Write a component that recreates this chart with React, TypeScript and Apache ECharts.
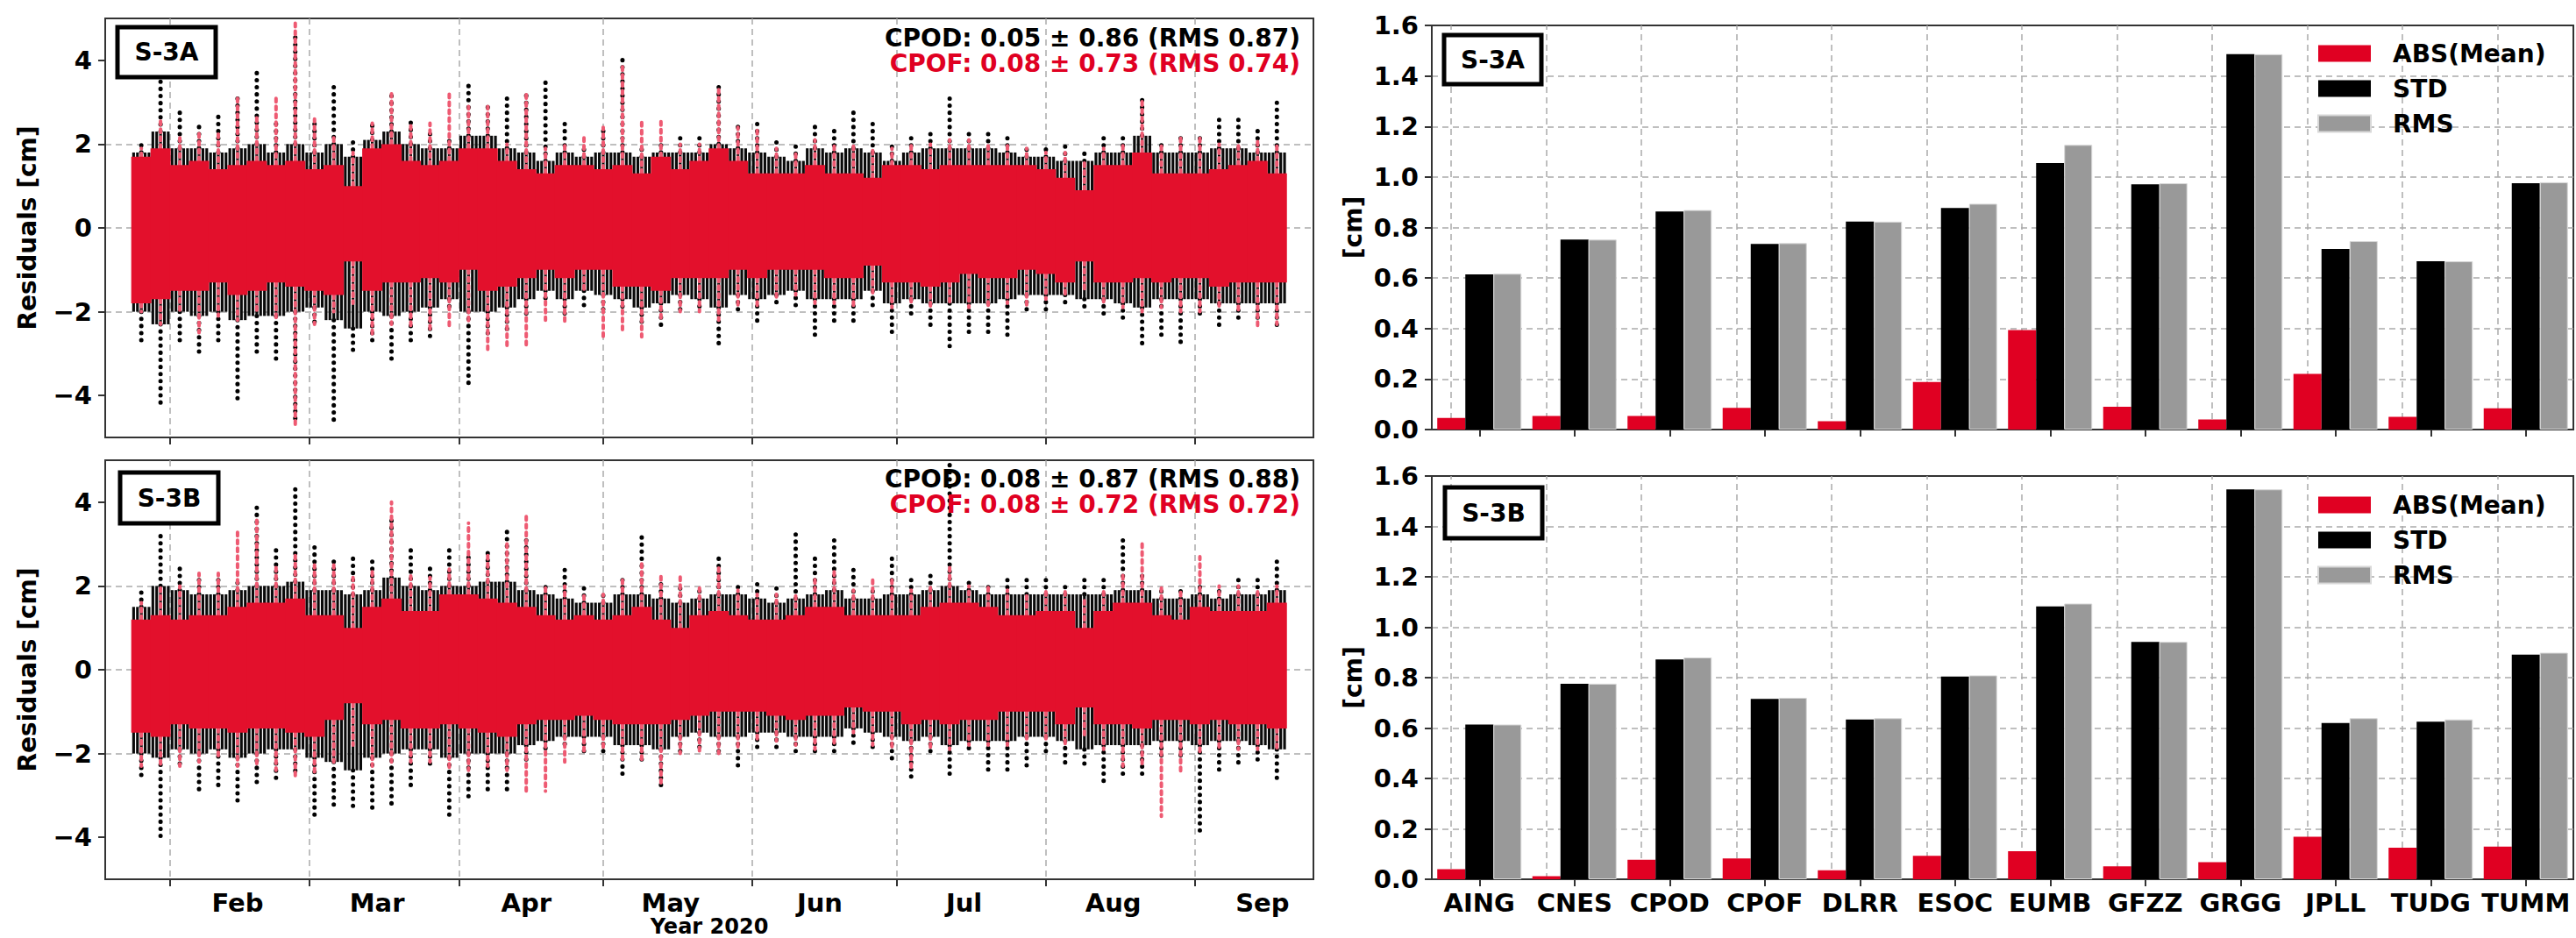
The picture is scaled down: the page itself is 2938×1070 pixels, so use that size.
import React, { useEffect, useRef } from 'react';
import * as echarts from 'echarts';

const FONT = 'DejaVu Sans';
const RED = '#e00022';
const RED_SCATTER = '#e3102c';
const RED_LIGHT = '#ee5a72';
const GRAY = '#999999';
const GRID_LINE = '#aaaaaa';
const FRAME = '#333333';

// ---------- left panels: residual time series (day of year 2020, Jan 1 = 0) ----------
const monthStartDays = [31, 60, 91, 121, 152, 182, 213, 244];
const monthLabelDays = [45, 74, 105, 135, 166, 196, 227, 258];
const monthNames = ['Feb', 'Mar', 'Apr', 'May', 'Jun', 'Jul', 'Aug', 'Sep'];
const residualTicks = [-4, -2, 0, 2, 4];

// 4-day bins: centre day of each bin
const binDays = [25, 29, 33, 37, 41, 45, 49, 53, 57, 61, 65, 69, 73, 77, 81, 85, 89, 93, 97, 101,
  105, 109, 113, 117, 121, 125, 129, 133, 137, 141, 145, 149, 153, 157, 161, 165, 169, 173, 177, 181,
  185, 189, 193, 197, 201, 205, 209, 213, 217, 221, 225, 229, 233, 237, 241, 245, 249, 253, 257, 261];

// per bin: [outer low, dense low, dense high, outer high]  (cm)
const s3aCpod = [
  [-2.7, -2.0, 1.8, 2.0], [-4.3, -2.3, 2.3, 3.8], [-2.7, -2.0, 1.9, 2.8], [-3.0, -2.1, 1.9, 2.5],
  [-2.7, -2.0, 1.8, 2.7], [-4.1, -2.2, 1.9, 3.1], [-3.1, -2.1, 2.0, 3.7], [-3.2, -2.1, 1.8, 2.6],
  [-4.6, -2.0, 2.0, 4.6], [-2.4, -1.9, 1.8, 2.5], [-4.7, -2.2, 2.0, 3.4], [-3.0, -2.4, 1.7, 2.1],
  [-2.8, -2.0, 2.1, 2.6], [-3.2, -2.1, 2.3, 3.3], [-2.7, -2.0, 2.0, 2.6], [-2.6, -1.9, 1.9, 2.4],
  [-2.0, -1.7, 1.9, 2.2], [-3.8, -2.0, 2.2, 3.4], [-2.6, -2.0, 2.2, 3.0], [-2.5, -1.9, 1.9, 3.1],
  [-2.2, -1.7, 1.8, 3.2], [-1.8, -1.5, 1.6, 3.5], [-2.1, -1.7, 1.8, 2.6], [-1.9, -1.5, 1.7, 2.0],
  [-2.1, -1.6, 1.8, 2.4], [-1.9, -1.7, 1.8, 4.05], [-2.3, -1.9, 1.7, 2.0], [-2.4, -1.8, 1.8, 2.0],
  [-2.0, -1.6, 1.8, 2.2], [-2.0, -1.7, 1.8, 2.2], [-2.8, -1.9, 2.0, 3.4], [-2.1, -1.6, 1.9, 2.5],
  [-2.3, -1.7, 1.8, 2.5], [-1.9, -1.6, 1.7, 2.1], [-1.9, -1.5, 1.6, 2.1], [-2.6, -1.7, 1.9, 2.5],
  [-2.3, -1.7, 1.8, 2.4], [-2.3, -1.7, 1.9, 2.9], [-2.0, -1.5, 1.8, 2.5], [-2.6, -1.8, 1.6, 2.0],
  [-2.2, -1.7, 1.8, 2.2], [-2.4, -1.8, 1.9, 2.4], [-2.9, -1.8, 1.9, 3.1], [-2.6, -1.8, 1.9, 2.4],
  [-2.6, -1.8, 1.9, 2.3], [-2.6, -1.7, 1.8, 2.3], [-2.1, -1.6, 1.7, 2.0], [-2.0, -1.6, 1.7, 2.0],
  [-1.9, -1.6, 1.6, 2.0], [-2.0, -1.7, 1.6, 1.9], [-2.1, -1.7, 1.8, 2.3], [-2.3, -1.8, 1.8, 2.3],
  [-2.9, -1.9, 2.2, 3.2], [-2.6, -1.7, 1.8, 2.1], [-2.85, -1.7, 1.8, 2.2], [-2.1, -1.7, 1.8, 2.2],
  [-2.4, -1.8, 1.9, 2.6], [-2.3, -1.8, 1.9, 2.6], [-2.3, -1.8, 1.8, 2.4], [-2.4, -1.8, 1.8, 3.1],
];
const s3aCpof = [
  [-2.0, -1.8, 1.7, 1.9], [-2.3, -1.7, 1.9, 2.6], [-2.0, -1.5, 1.5, 2.2], [-2.5, -1.5, 1.6, 2.3],
  [-2.1, -1.3, 1.4, 2.3], [-2.2, -1.6, 1.5, 3.1], [-2.0, -1.5, 1.6, 2.7], [-2.2, -1.3, 1.5, 3.1],
  [-4.7, -1.4, 1.6, 4.9], [-2.3, -1.5, 1.4, 2.6], [-2.0, -1.6, 1.5, 2.2], [-1.8, -0.8, 1.0, 1.8],
  [-2.6, -1.5, 1.9, 2.5], [-2.3, -1.3, 2.0, 3.2], [-2.4, -1.3, 1.6, 2.5], [-2.5, -1.2, 1.5, 2.5],
  [-2.4, -1.3, 1.6, 3.2], [-2.3, -1.0, 1.9, 2.9], [-2.9, -1.5, 1.9, 2.9], [-2.9, -1.4, 1.6, 2.0],
  [-2.8, -1.2, 1.4, 3.2], [-2.2, -1.0, 1.3, 1.9], [-2.3, -1.2, 1.5, 2.0], [-1.5, -1.0, 1.5, 2.2],
  [-2.6, -1.0, 1.4, 2.4], [-2.5, -1.4, 1.5, 3.9], [-2.6, -1.4, 1.3, 2.6], [-2.2, -1.5, 1.7, 2.6],
  [-2.0, -1.2, 1.4, 2.0], [-2.0, -1.2, 1.6, 2.0], [-2.2, -1.2, 1.9, 3.3], [-1.9, -1.0, 1.6, 2.4],
  [-1.9, -1.2, 1.3, 2.4], [-1.7, -1.0, 1.3, 1.9], [-1.6, -1.0, 1.3, 1.8], [-1.8, -1.0, 1.5, 2.1],
  [-1.8, -1.2, 1.3, 2.0], [-1.9, -1.2, 1.3, 2.0], [-1.6, -0.9, 1.2, 1.9], [-1.9, -1.3, 1.5, 1.9],
  [-1.8, -1.3, 1.5, 2.0], [-1.9, -1.4, 1.4, 2.0], [-1.8, -1.3, 1.5, 2.1], [-1.9, -1.1, 1.5, 2.1],
  [-1.9, -1.2, 1.5, 2.0], [-1.8, -1.2, 1.5, 2.0], [-1.9, -1.0, 1.5, 1.9], [-1.7, -1.1, 1.4, 1.8],
  [-1.6, -1.3, 1.2, 1.8], [-1.5, -0.8, 0.9, 1.6], [-1.8, -1.3, 1.5, 1.9], [-1.9, -1.3, 1.5, 2.0],
  [-2.0, -1.2, 1.8, 3.1], [-1.9, -1.3, 1.3, 2.0], [-2.0, -1.2, 1.3, 2.2], [-2.0, -1.2, 1.3, 2.2],
  [-1.9, -1.4, 1.4, 2.0], [-2.0, -1.3, 1.5, 2.0], [-2.4, -1.3, 1.6, 2.1], [-2.3, -1.3, 1.3, 2.0],
];
const s3bCpod = [
  [-2.6, -2.0, 1.5, 2.0], [-4.1, -2.1, 2.0, 3.3], [-2.4, -1.9, 1.9, 2.5], [-2.9, -2.0, 1.8, 2.3],
  [-2.9, -1.9, 1.8, 2.2], [-3.2, -2.1, 1.9, 2.2], [-2.7, -2.0, 2.0, 3.9], [-2.6, -1.9, 2.0, 2.9],
  [-2.5, -1.9, 2.1, 4.4], [-3.5, -2.1, 1.9, 3.0], [-3.3, -2.2, 1.9, 2.7], [-3.3, -2.4, 1.8, 2.7],
  [-3.3, -2.1, 1.9, 2.7], [-3.2, -2.0, 2.2, 3.6], [-2.9, -1.9, 2.0, 2.9], [-2.4, -1.9, 1.9, 2.5],
  [-3.6, -2.1, 2.0, 3.0], [-3.1, -2.0, 2.0, 2.8], [-2.9, -2.0, 2.1, 2.9], [-3.0, -2.0, 2.1, 3.4],
  [-2.2, -1.8, 1.9, 3.1], [-2.0, -1.7, 1.8, 2.0], [-1.9, -1.6, 1.7, 2.4], [-2.0, -1.6, 1.6, 2.0],
  [-2.1, -1.6, 1.6, 1.9], [-2.5, -1.8, 1.8, 2.2], [-2.2, -1.8, 1.8, 3.2], [-2.8, -1.9, 1.7, 2.1],
  [-2.0, -1.6, 1.6, 2.0], [-2.0, -1.5, 1.7, 2.0], [-2.0, -1.6, 1.8, 2.8], [-2.3, -1.6, 1.8, 2.0],
  [-2.0, -1.5, 1.7, 2.1], [-2.0, -1.5, 1.6, 2.0], [-2.0, -1.6, 1.7, 3.3], [-2.0, -1.6, 1.8, 2.7],
  [-2.0, -1.6, 1.9, 3.1], [-1.8, -1.4, 1.7, 2.4], [-2.0, -1.5, 1.7, 2.0], [-2.2, -1.6, 1.8, 2.8],
  [-2.6, -1.7, 1.8, 2.3], [-2.0, -1.6, 1.9, 2.4], [-2.6, -1.8, 2.0, 4.97], [-2.0, -1.7, 1.9, 2.2],
  [-2.5, -1.7, 1.8, 2.1], [-2.5, -1.7, 1.8, 2.3], [-2.3, -1.6, 1.8, 2.3], [-2.0, -1.6, 1.8, 2.2],
  [-2.3, -1.7, 1.8, 2.1], [-2.3, -1.9, 1.8, 2.2], [-2.7, -1.8, 1.8, 2.3], [-2.5, -1.8, 1.9, 3.1],
  [-2.6, -1.8, 1.9, 2.3], [-2.2, -1.7, 1.7, 2.0], [-2.2, -1.7, 1.7, 2.0], [-4.0, -1.8, 1.8, 2.0],
  [-2.5, -1.7, 1.7, 2.0], [-2.3, -1.7, 1.8, 2.3], [-2.3, -1.8, 1.8, 2.2], [-2.7, -1.9, 1.9, 2.7],
];
const s3bCpof = [
  [-2.3, -1.5, 1.2, 1.6], [-2.3, -1.6, 1.3, 2.0], [-2.3, -1.3, 1.2, 2.0], [-2.2, -1.4, 1.3, 2.3],
  [-2.1, -1.4, 1.3, 2.3], [-2.3, -1.5, 1.5, 3.3], [-2.3, -1.4, 1.6, 3.6], [-2.4, -1.4, 1.6, 2.5],
  [-2.6, -1.5, 1.7, 2.8], [-2.5, -1.6, 1.3, 2.5], [-2.2, -1.2, 1.3, 2.5], [-1.8, -0.8, 1.0, 2.2],
  [-2.3, -1.3, 1.5, 2.4], [-2.2, -1.2, 1.7, 4.0], [-2.2, -1.4, 1.4, 2.3], [-2.2, -1.4, 1.4, 2.2],
  [-2.4, -1.3, 1.8, 2.4], [-2.4, -1.4, 1.8, 3.5], [-2.3, -1.5, 1.7, 2.8], [-2.4, -1.6, 1.6, 3.1],
  [-2.9, -1.3, 1.5, 3.7], [-2.9, -1.2, 1.3, 2.0], [-2.2, -1.2, 1.2, 2.0], [-2.0, -1.1, 1.3, 1.8],
  [-1.9, -1.2, 1.2, 1.8], [-2.2, -1.3, 1.3, 2.2], [-2.2, -1.3, 1.5, 2.6], [-2.7, -1.3, 1.2, 2.3],
  [-2.0, -1.2, 1.0, 2.3], [-2.0, -1.1, 1.3, 2.0], [-2.0, -1.0, 1.4, 2.5], [-1.9, -1.0, 1.3, 1.9],
  [-1.7, -1.0, 1.2, 1.8], [-1.7, -1.1, 1.2, 1.8], [-1.8, -1.2, 1.3, 1.8], [-1.9, -1.1, 1.5, 2.2],
  [-1.8, -1.1, 1.5, 2.4], [-1.5, -0.9, 1.3, 1.9], [-1.8, -1.0, 1.3, 2.2], [-1.9, -1.0, 1.3, 2.2],
  [-2.4, -1.3, 1.3, 1.9], [-1.9, -1.2, 1.5, 2.0], [-1.9, -1.3, 1.6, 2.5], [-1.8, -1.2, 1.6, 2.0],
  [-1.8, -1.2, 1.5, 2.0], [-1.8, -1.0, 1.3, 1.9], [-1.7, -1.0, 1.3, 1.8], [-1.7, -1.0, 1.4, 1.9],
  [-1.8, -1.3, 1.4, 1.9], [-1.6, -0.9, 1.0, 1.7], [-1.9, -1.3, 1.4, 1.9], [-2.3, -1.3, 1.6, 2.3],
  [-2.3, -1.4, 1.6, 3.0], [-3.5, -1.2, 1.3, 2.0], [-2.5, -1.2, 1.2, 1.9], [-2.0, -1.3, 1.5, 2.7],
  [-1.9, -1.2, 1.4, 2.0], [-1.9, -1.3, 1.4, 2.0], [-1.9, -1.3, 1.4, 1.9], [-1.9, -1.4, 1.6, 2.0],
];

const s3aStats = ['CPOD: 0.05 \u00b1 0.86 (RMS 0.87)', 'CPOF: 0.08 \u00b1 0.73 (RMS 0.74)'];
const s3bStats = ['CPOD: 0.08 \u00b1 0.87 (RMS 0.88)', 'CPOF: 0.08 \u00b1 0.72 (RMS 0.72)'];

// ---------- right panels: statistics per analysis centre ----------
const centres = ['AING', 'CNES', 'CPOD', 'CPOF', 'DLRR', 'ESOC', 'EUMB', 'GFZZ', 'GRGG', 'JPLL', 'TUDG', 'TUMM'];
const s3aMean = [0.046, 0.054, 0.054, 0.086, 0.033, 0.188, 0.394, 0.090, 0.040, 0.220, 0.050, 0.084];
const s3aStd = [0.614, 0.752, 0.863, 0.735, 0.823, 0.877, 1.055, 0.971, 1.486, 0.715, 0.666, 0.975];
const s3aRms = [0.617, 0.752, 0.869, 0.738, 0.823, 0.894, 1.127, 0.975, 1.486, 0.746, 0.666, 0.979];
const s3bMean = [0.040, 0.012, 0.077, 0.083, 0.036, 0.093, 0.111, 0.051, 0.068, 0.169, 0.125, 0.130];
const s3bStd = [0.614, 0.776, 0.872, 0.716, 0.634, 0.804, 1.083, 0.942, 1.547, 0.620, 0.625, 0.891];
const s3bRms = [0.614, 0.776, 0.880, 0.720, 0.639, 0.809, 1.094, 0.942, 1.547, 0.639, 0.634, 0.899];
const statNames = ['ABS(Mean)', 'STD', 'RMS'];

const BIN = 4;
const bold = (size: number) => ({ fontFamily: FONT, fontWeight: 'bold' as const, fontSize: size, color: '#000' });
const dashed = { color: GRID_LINE, type: [7, 5] as number[], width: 1.5 };

function rangeRenderer(coreColor: string, striped: boolean, outerColor: string, outerWidth: number, dash: number[]) {
  return (params: any, api: any) => {
    const d = api.value(0);
    const x = api.coord([d, 0])[0];
    const yOLo = api.coord([d, api.value(1)])[1];
    const yCLo = api.coord([d, api.value(2)])[1];
    const yCHi = api.coord([d, api.value(3)])[1];
    const yOHi = api.coord([d, api.value(4)])[1];
    const w = api.size([BIN, 0])[0];
    const outerStyle = { stroke: outerColor, lineWidth: outerWidth, lineDash: dash, lineCap: 'round', fill: 'none' };
    const children: any[] = [
      { type: 'line', shape: { x1: x, y1: yCHi, x2: x, y2: yOHi }, style: outerStyle },
      { type: 'line', shape: { x1: x, y1: yCLo, x2: x, y2: yOLo }, style: outerStyle },
    ];
    if (striped) {
      [-0.4, -0.2, 0, 0.2, 0.4].forEach((f) => {
        children.push({
          type: 'line',
          shape: { x1: x + f * w, y1: yCHi, x2: x + f * w, y2: yCLo },
          style: { stroke: coreColor, lineWidth: w / 7 },
        });
      });
    } else {
      children.push({
        type: 'rect',
        shape: { x: x - w / 2 - 0.5, y: yCHi, width: w + 1, height: yCLo - yCHi },
        style: { fill: coreColor },
      });
    }
    return { type: 'group', children };
  };
}

const toRows = (ranges: number[][]) => binDays.map((d, i) => [d, ...ranges[i]]);

function leftAxes(gridIndex: number, withLabels: boolean) {
  const x: any = {
    gridIndex,
    type: 'value',
    min: 17.5,
    max: 268.6,
    axisLine: { show: true, onZero: false, lineStyle: { color: FRAME, width: 2 } },
    axisTick: { show: true, customValues: monthStartDays, length: 8, lineStyle: { color: FRAME, width: 2 } },
    axisLabel: withLabels
      ? {
          show: true,
          customValues: monthLabelDays,
          formatter: (v: number) => monthNames[monthLabelDays.indexOf(Math.round(v))] || '',
          margin: 12,
          lineHeight: 29,
          ...bold(29),
        }
      : { show: false },
    splitLine: { show: true, lineStyle: dashed },
  };
  if (withLabels) {
    x.name = 'Year 2020';
    x.nameLocation = 'middle';
    x.nameGap = 42;
    x.nameMoveOverlap = false;
    x.nameTextStyle = { ...bold(24), lineHeight: 24 };
  }
  const y: any = {
    gridIndex,
    type: 'value',
    min: -5,
    max: 5,
    name: 'Residuals [cm]',
    nameLocation: 'middle',
    nameGap: 75,
    nameTextStyle: bold(28),
    axisLine: { show: true, onZero: false, lineStyle: { color: FRAME, width: 2 } },
    axisTick: { show: true, customValues: residualTicks, length: 8, lineStyle: { color: FRAME, width: 2 } },
    axisLabel: {
      customValues: residualTicks,
      formatter: (v: number) => (v < 0 ? '\u2212' + Math.abs(v) : String(v)),
      margin: 15,
      ...bold(29),
    },
    splitLine: { show: true, showMinLine: false, showMaxLine: false, lineStyle: dashed },
  };
  return { x, y };
}

function rightAxes(gridIndex: number, withLabels: boolean) {
  const x: any = {
    gridIndex,
    type: 'category',
    data: centres,
    boundaryGap: true,
    axisLine: { show: true, onZero: false, lineStyle: { color: FRAME, width: 2 } },
    axisTick: { show: true, alignWithLabel: true, length: 8, lineStyle: { color: FRAME, width: 2 } },
    axisLabel: withLabels ? { show: true, margin: 12, interval: 0, ...bold(29) } : { show: false },
    splitLine: { show: false },
  };
  const y: any = {
    gridIndex,
    type: 'value',
    min: 0,
    max: 1.6,
    interval: 0.2,
    name: '[cm]',
    nameLocation: 'middle',
    nameGap: 76,
    nameTextStyle: bold(28),
    axisLine: { show: true, lineStyle: { color: FRAME, width: 2 } },
    axisTick: { show: true, length: 8, lineStyle: { color: FRAME, width: 2 } },
    axisLabel: { formatter: (v: number) => v.toFixed(1), margin: 15, ...bold(29) },
    splitLine: { show: true, showMinLine: false, showMaxLine: false, lineStyle: dashed },
  };
  return { x, y };
}

function barSeries(axisIndex: number, mean: number[], std: number[], rms: number[]) {
  const common = { type: 'bar', xAxisIndex: axisIndex, yAxisIndex: axisIndex, barGap: '0%', barCategoryGap: '11.5%', z: 3 };
  return [
    {
      ...common,
      name: statNames[0],
      data: mean,
      itemStyle: { color: RED },
      markLine: {
        silent: true,
        symbol: 'none',
        z: 1,
        label: { show: false },
        lineStyle: dashed,
        data: centres.map((c) => ({ xAxis: c })),
      },
    },
    { ...common, name: statNames[1], data: std, itemStyle: { color: '#000000' } },
    { ...common, name: statNames[2], data: rms, itemStyle: { color: GRAY, borderColor: '#d8d8d8', borderWidth: 1 } },
  ];
}

function legendAt(top: number) {
  return {
    data: statNames,
    orient: 'vertical',
    left: 2638,
    top,
    icon: 'rect',
    itemWidth: 60,
    itemHeight: 19,
    itemGap: 12,
    textStyle: { ...bold(28), padding: [0, 0, 0, 20], lineHeight: 28 },
  };
}

function labelBox(x: number, y: number, w: number, h: number, text: string) {
  return {
    type: 'group',
    x,
    y,
    z: 100,
    children: [
      { type: 'rect', shape: { x: 0, y: 0, width: w, height: h }, style: { fill: '#ffffff', stroke: '#000000', lineWidth: 5 }, z: 100 },
      {
        type: 'text',
        x: w / 2,
        y: h / 2,
        z: 101,
        style: { text, fill: '#000', font: `bold 28px "${FONT}"`, textAlign: 'center', textVerticalAlign: 'middle' },
      },
    ],
  };
}

function statText(x: number, y: number, text: string, color: string) {
  return {
    type: 'text',
    x,
    y,
    z: 100,
    style: { text, fill: color, font: `bold 28px "${FONT}"`, textAlign: 'right', textVerticalAlign: 'middle' },
  };
}

export default function App() {
  const ref = useRef<HTMLDivElement>(null);

  useEffect(() => {
    if (!ref.current) return;
    const chart = echarts.init(ref.current, null, { renderer: 'svg' });
    const a0 = leftAxes(0, false);
    const a1 = leftAxes(1, true);
    const a2 = rightAxes(2, false);
    const a3 = rightAxes(3, true);

    const blackRender = rangeRenderer('#0a0a0a', true, '#000000', 5, [0.1, 8]);
    const redRender = rangeRenderer(RED_SCATTER, false, RED_LIGHT, 4, [4, 5]);

    const scatterSeries = (axisIndex: number, cpod: number[][], cpof: number[][]) => [
      {
        type: 'custom',
        name: 'CPOD',
        xAxisIndex: axisIndex,
        yAxisIndex: axisIndex,
        clip: true,
        z: 2,
        renderItem: blackRender,
        encode: { x: 0, y: [1, 2, 3, 4] },
        data: toRows(cpod),
      },
      {
        type: 'custom',
        name: 'CPOF',
        xAxisIndex: axisIndex,
        yAxisIndex: axisIndex,
        clip: true,
        z: 3,
        renderItem: redRender,
        encode: { x: 0, y: [1, 2, 3, 4] },
        data: toRows(cpof),
      },
    ];

    const gridBase = { show: true, borderColor: FRAME, borderWidth: 2, backgroundColor: 'transparent', containLabel: false, outerBoundsMode: 'none' };

    const option: any = {
      animation: false,
      backgroundColor: '#ffffff',
      textStyle: { fontFamily: FONT },
      grid: [
        { ...gridBase, left: 120, top: 21, width: 1378, height: 478 },
        { ...gridBase, left: 120, top: 525, width: 1378, height: 478 },
        { ...gridBase, left: 1633, top: 29, width: 1302, height: 461 },
        { ...gridBase, left: 1633, top: 543, width: 1302, height: 460 },
      ],
      xAxis: [a0.x, a1.x, a2.x, a3.x],
      yAxis: [a0.y, a1.y, a2.y, a3.y],
      legend: [legendAt(42), legendAt(557)],
      series: [
        ...scatterSeries(0, s3aCpod, s3aCpof),
        ...scatterSeries(1, s3bCpod, s3bCpof),
        ...barSeries(2, s3aMean, s3aStd, s3aRms),
        ...barSeries(3, s3bMean, s3bStd, s3bRms),
      ],
      graphic: [
        labelBox(134, 31, 112, 57, 'S-3A'),
        labelBox(137, 539, 112, 58, 'S-3B'),
        labelBox(1647, 40, 111, 56, 'S-3A'),
        labelBox(1648, 556, 111, 58, 'S-3B'),
        statText(1483, 43, s3aStats[0], '#000000'),
        statText(1483, 72, s3aStats[1], RED),
        statText(1483, 546, s3bStats[0], '#000000'),
        statText(1483, 575, s3bStats[1], RED),
      ],
    };
    chart.setOption(option);
    return () => chart.dispose();
  }, []);

  return (
    <div
      ref={ref}
      style={{ position: 'fixed', left: 0, top: 0, width: 2938, height: 1070, background: '#ffffff' }}
    />
  );
}
